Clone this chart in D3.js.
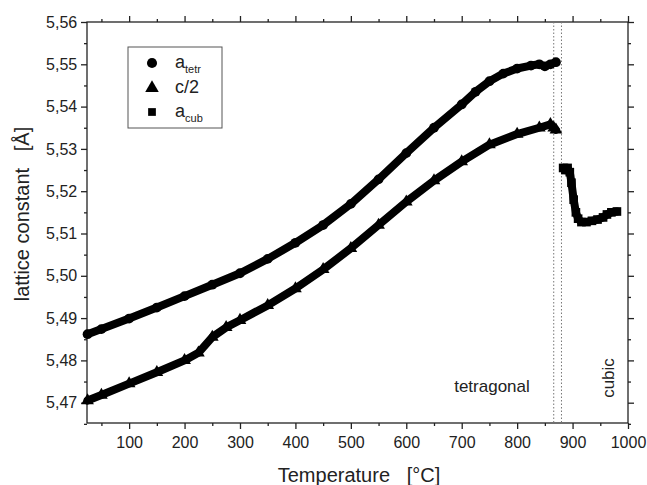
<!DOCTYPE html>
<html>
<head>
<meta charset="utf-8">
<script src="https://cdn.jsdelivr.net/npm/d3@7"></script>
<style>
	body {margin: 0; background: #fff;}
	text {font-family: "Liberation Sans", Arial, sans-serif; fill: #222;}
</style>
</head>
<body>
<svg id="chart" width="647" height="485"></svg>
<script>
'use strict';

// tetragonal a (circles)
var tetrT = [25, 50, 100, 150, 200, 250, 300, 350, 400, 450, 500, 550, 600, 650, 700, 725, 750, 775, 800, 825, 840, 850, 860, 870];
var tetrA = [5.4862, 5.4874, 5.4899, 5.4925, 5.4952, 5.4979, 5.5006, 5.5040, 5.5078, 5.5120, 5.5170, 5.5228, 5.5290, 5.5350, 5.5405, 5.5435, 5.5460, 5.5478, 5.5490, 5.5497, 5.5500, 5.5495, 5.5500, 5.5505];

// c/2 (triangles)
var halfCT = [25, 50, 100, 150, 200, 225, 250, 275, 300, 350, 400, 450, 500, 550, 600, 650, 700, 750, 800, 840, 860, 866, 870];
var halfC = [5.4705, 5.4718, 5.4745, 5.4772, 5.4800, 5.4818, 5.4855, 5.4878, 5.4895, 5.4930, 5.4970, 5.5015, 5.5065, 5.5120, 5.5175, 5.5225, 5.5270, 5.5310, 5.5335, 5.5350, 5.5358, 5.5350, 5.5345];

// cubic a (squares)
var cubT = [883, 887, 891, 895, 898, 902, 906, 910, 916, 925, 935, 945, 955, 962, 970, 980];
var cubA = [5.5255, 5.5250, 5.5255, 5.5245, 5.5220, 5.5180, 5.5150, 5.5135, 5.5127, 5.5127, 5.5130, 5.5133, 5.5138, 5.5145, 5.5150, 5.5152];

var phaseLines = [866, 880];
var xTicks = [100, 200, 300, 400, 500, 600, 700, 800, 900, 1000];
var yTicks = [5.47, 5.48, 5.49, 5.50, 5.51, 5.52, 5.53, 5.54, 5.55, 5.56];

(function() {
	var svg = d3.select('#chart');
	var L = 87, R = 628, T = 22, B = 423;

	var x = d3.scaleLinear().domain([24, 1000]).range([L, R]);
	var y = d3.scaleLinear().domain([5.4652, 5.56]).range([B, T]);

	var fmtY = function(d) {return d3.format('.2f')(d).replace('.', ',');};
	var xMinor = d3.range(50, 1000, 100);
	var yMinor = d3.range(5.465, 5.56, 0.01);

	// frame
	svg.append('rect')
		.attr('x', L).attr('y', T)
		.attr('width', R - L).attr('height', B - T)
		.attr('fill', 'none').attr('stroke', '#222').attr('stroke-width', 1.3);

	function axis(gen, tr, vals, size, fmt) {
		var g = svg.append('g').attr('transform', tr)
			.call(gen.tickValues(vals).tickSize(size).tickSizeOuter(0).tickFormat(fmt || ''));
		g.select('.domain').remove();
		g.selectAll('line').attr('stroke', '#222').attr('stroke-width', 1.3);
		return g;}

	// bottom / left outward, top / right inward
	var gx = axis(d3.axisBottom(x), 'translate(0,' + B + ')', xTicks, 6, d3.format('d'));
	axis(d3.axisBottom(x), 'translate(0,' + B + ')', xMinor, 3);
	axis(d3.axisBottom(x), 'translate(0,' + T + ')', xTicks, -6);
	axis(d3.axisBottom(x), 'translate(0,' + T + ')', xMinor, -3);
	var gy = axis(d3.axisLeft(y), 'translate(' + L + ',0)', yTicks, 6, fmtY);
	axis(d3.axisLeft(y), 'translate(' + L + ',0)', yMinor, 3);
	axis(d3.axisLeft(y), 'translate(' + R + ',0)', yTicks, -6);
	axis(d3.axisLeft(y), 'translate(' + R + ',0)', yMinor, -3);

	gx.selectAll('text').attr('font-size', 16).attr('dy', '1.0em').attr('fill', '#222');
	gy.selectAll('text').attr('font-size', 16).attr('dx', '-0.05em').attr('fill', '#222');

	// phase boundary lines
	svg.selectAll('.phase').data(phaseLines).enter().append('line')
		.attr('x1', function(d) {return x(d);}).attr('x2', function(d) {return x(d);})
		.attr('y1', T).attr('y2', B)
		.attr('stroke', '#777').attr('stroke-width', 1)
		.attr('stroke-dasharray', '1.5,2');

	// series
	function series(ts, vs, symbol, size) {
		var pts = ts.map(function(t, i) {return [t, vs[i]];});
		svg.append('path').datum(pts)
			.attr('d', d3.line().x(function(d) {return x(d[0]);}).y(function(d) {return y(d[1]);}))
			.attr('fill', 'none').attr('stroke', '#000')
			.attr('stroke-width', 8).attr('stroke-linejoin', 'round').attr('stroke-linecap', 'round');
		svg.selectAll(null).data(pts).enter().append('path')
			.attr('d', d3.symbol().type(symbol).size(size))
			.attr('transform', function(d) {return 'translate(' + x(d[0]) + ',' + y(d[1]) + ')';})
			.attr('fill', '#000');}

	series(tetrT, tetrA, d3.symbolCircle, 75);
	series(halfCT, halfC, d3.symbolTriangle, 70);
	series(cubT, cubA, d3.symbolSquare, 75);

	// legend
	var lg = svg.append('g');
	lg.append('rect').attr('x', 128).attr('y', 47).attr('width', 94).attr('height', 81)
		.attr('fill', '#fff').attr('stroke', '#555').attr('stroke-width', 1);
	var legendRows = [
		{sym: d3.symbolCircle, size: 80, y: 63, main: 'a', sub: 'tetr'},
		{sym: d3.symbolTriangle, size: 80, y: 88, main: 'c/2', sub: ''},
		{sym: d3.symbolSquare, size: 60, y: 112, main: 'a', sub: 'cub'}];
	legendRows.forEach(function(r) {
		lg.append('path').attr('d', d3.symbol().type(r.sym).size(r.size))
			.attr('transform', 'translate(152,' + r.y + ')').attr('fill', '#000');
		var t = lg.append('text').attr('x', 175).attr('y', r.y + 5).attr('font-size', 18).text(r.main);
		if (r.sub) {
			t.append('tspan').attr('dy', 5).attr('font-size', 11).text(r.sub);}});

	// phase labels
	svg.append('text').attr('x', 492).attr('y', 392).attr('text-anchor', 'middle')
		.attr('font-size', 17).text('tetragonal');
	svg.append('text').attr('transform', 'translate(614,378) rotate(-90)')
		.attr('text-anchor', 'middle').attr('font-size', 17).text('cubic');

	// axis titles
	svg.append('text').attr('x', 359).attr('y', 482).attr('text-anchor', 'middle')
		.attr('font-size', 20).attr('xml:space', 'preserve').text('Temperature   [°C]');
	svg.append('text').attr('transform', 'translate(29,214) rotate(-90)')
		.attr('text-anchor', 'middle').attr('font-size', 20).attr('xml:space', 'preserve')
		.text('lattice constant   [Å]');
})();
</script>
</body>
</html>
